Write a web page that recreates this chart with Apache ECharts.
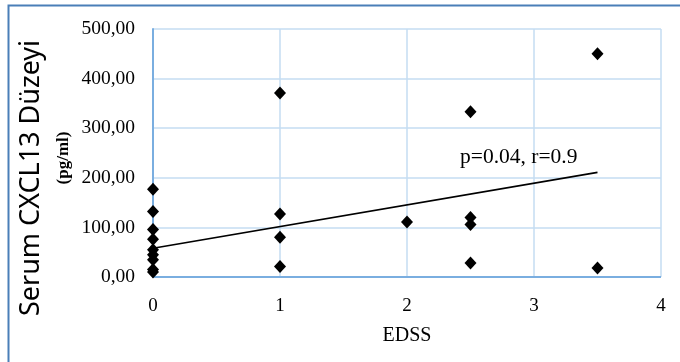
<!DOCTYPE html>
<html><head><meta charset="utf-8">
<script src="https://cdn.jsdelivr.net/npm/echarts@6/dist/echarts.min.js"></script>
<style>html,body{margin:0;padding:0;background:#fff}#c{width:680px;height:362px}</style>
</head><body><div id="c"></div>
<script>
const edss = [0,0,0,0,0,0,0,0,0, 1,1,1,1, 2, 2.5,2.5,2.5,2.5, 3.5,3.5];
const cxcl13 = [177,132,96,76,55,45,35,15,10, 371,127,80,21, 111, 333,120,106,28, 450,18];
const trendX = [0, 3.5];
const trendY = [58, 211];
const xTicks = [0, 1, 2, 3, 4];
const yTicks = [0, 100, 200, 300, 400, 500];
const yTitle = 'Serum CXCL13 Düzeyi';
const yUnit = '(pg/ml)';
const xTitle = 'EDSS';
const note = 'p=0.04, r=0.9';

const chart = echarts.init(document.getElementById('c'), null, {renderer: 'canvas'});
const serif = '"Liberation Serif", "Times New Roman", serif';
chart.setOption({
  animation: false,
  backgroundColor: '#fff',
  grid: {left: 153, right: 19, top: 29, bottom: 85},
  xAxis: {
    type: 'value', min: xTicks[0], max: xTicks[xTicks.length - 1], interval: 1,
    name: xTitle, nameLocation: 'middle', nameGap: 49,
    nameTextStyle: {fontFamily: serif, fontSize: 20, color: '#000'},
    axisLine: {show: false},
    axisTick: {show: false},
    axisLabel: {fontFamily: serif, fontSize: 19, color: '#000', margin: 20},
    splitLine: {show: true, lineStyle: {color: '#c5dcf2', width: 1.5}}
  },
  yAxis: {
    type: 'value', min: yTicks[0], max: yTicks[yTicks.length - 1], interval: 100,
    axisLine: {show: true, onZero: false, lineStyle: {color: '#7aaee0', width: 2}},
    axisTick: {show: false},
    axisLabel: {fontFamily: serif, fontSize: 19.5, color: '#000', margin: 18,
      formatter: v => v.toFixed(2).replace('.', ',')},
    splitLine: {show: true, lineStyle: {color: '#c5dcf2', width: 1.5}}
  },
  graphic: [
    {type: 'polyline', shape: {points: [[8.5, 362], [8.5, 5.5], [680, 5.5]]},
      style: {stroke: '#4a7fb8', lineWidth: 2, fill: null}, z: 10},
    {type: 'text', x: 31, y: 178, rotation: Math.PI / 2, z: 10,
      style: {text: yTitle, font: '27px "Noto Sans", sans-serif', fill: '#000',
        textAlign: 'center', textVerticalAlign: 'middle'}},
    {type: 'text', x: 64, y: 158, rotation: Math.PI / 2, z: 10,
      style: {text: yUnit, font: 'bold 17px ' + serif, fill: '#000',
        textAlign: 'center', textVerticalAlign: 'middle'}},
    {type: 'text', x: 460, y: 157, z: 10,
      style: {text: note, font: '21.5px ' + serif, fill: '#000',
        textAlign: 'left', textVerticalAlign: 'middle'}}
  ],
  series: [
    {
      type: 'line', data: trendX.map((x, i) => [x, trendY[i]]),
      symbol: 'none', lineStyle: {color: '#000', width: 1.6}, z: 3
    },
    {
      type: 'line', data: [[xTicks[0], 0], [xTicks[xTicks.length - 1], 0]],
      symbol: 'none', lineStyle: {color: '#7aaee0', width: 2}, z: 1, silent: true
    },
    {
      type: 'scatter', data: edss.map((x, i) => [x, cxcl13[i]]),
      symbol: 'diamond', symbolSize: [12, 13], clip: false,
      itemStyle: {color: '#000', opacity: 1}, z: 4
    }
  ]
});
</script></body></html>
